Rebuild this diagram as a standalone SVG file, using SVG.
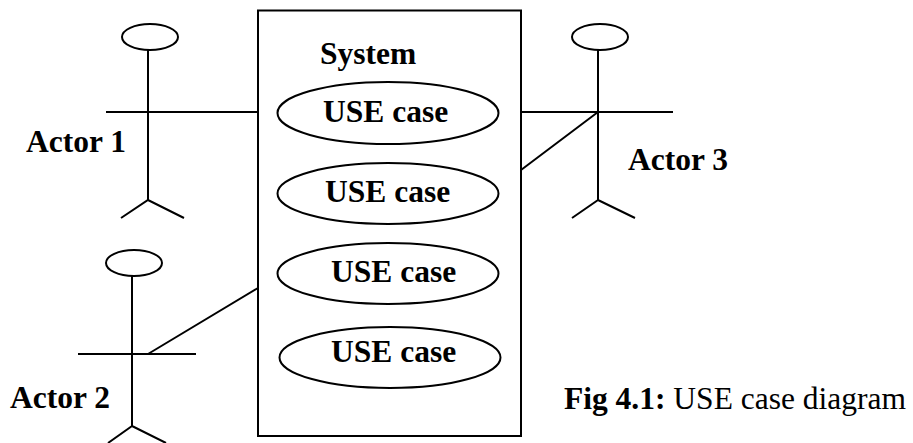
<svg xmlns="http://www.w3.org/2000/svg" width="913" height="443" viewBox="0 0 913 443">
<style>
.l{stroke:#000;stroke-width:2;fill:none}
.e{stroke:#000;stroke-width:2;fill:#fff}
text{font-family:"Liberation Serif","Times New Roman",serif;font-size:31.5px;fill:#000}
.b{font-weight:bold}
</style>
<rect width="913" height="443" fill="#fff"/>
<g id="connectors">
<path class="l" d="M106 112H258M521 112H673M598 112L521 170M148 354L258 288"/>
</g>
<g id="system"><rect class="l" x="258" y="10.500" width="263" height="425.500"/><text class="b" x="320" y="64">System</text></g>
<g id="uc1"><ellipse class="e" cx="388" cy="113" rx="110.500" ry="31"/><text class="b" x="323" y="122">USE case</text></g>
<g id="uc2"><ellipse class="e" cx="388" cy="193.500" rx="110.500" ry="30.500"/><text class="b" x="325" y="202">USE case</text></g>
<g id="uc3"><ellipse class="e" cx="388" cy="273.500" rx="110.500" ry="30.500"/><text class="b" x="331" y="282">USE case</text></g>
<g id="uc4"><ellipse class="e" cx="390" cy="357.500" rx="110.500" ry="30.500"/><text class="b" x="331" y="362">USE case</text></g>
<g id="actor1"><ellipse class="e" cx="150" cy="37" rx="28" ry="13"/><path class="l" d="M148 50V200M121 218L148 200L184 218"/><text class="b" x="26" y="152">Actor 1</text></g>
<g id="actor2"><ellipse class="e" cx="134" cy="263" rx="28" ry="13"/><path class="l" d="M78 354H196M132 276V426L108 443M132 426L166 443"/><text class="b" x="10" y="408">Actor 2</text></g>
<g id="actor3"><ellipse class="e" cx="600" cy="37" rx="28" ry="13"/><path class="l" d="M598 50V200L572 218M598 200L635 218"/><text class="b" x="628" y="170">Actor 3</text></g>
<g id="caption"><text x="564" y="409"><tspan class="b">Fig 4.1:</tspan> USE case diagram</text></g>
</svg>
